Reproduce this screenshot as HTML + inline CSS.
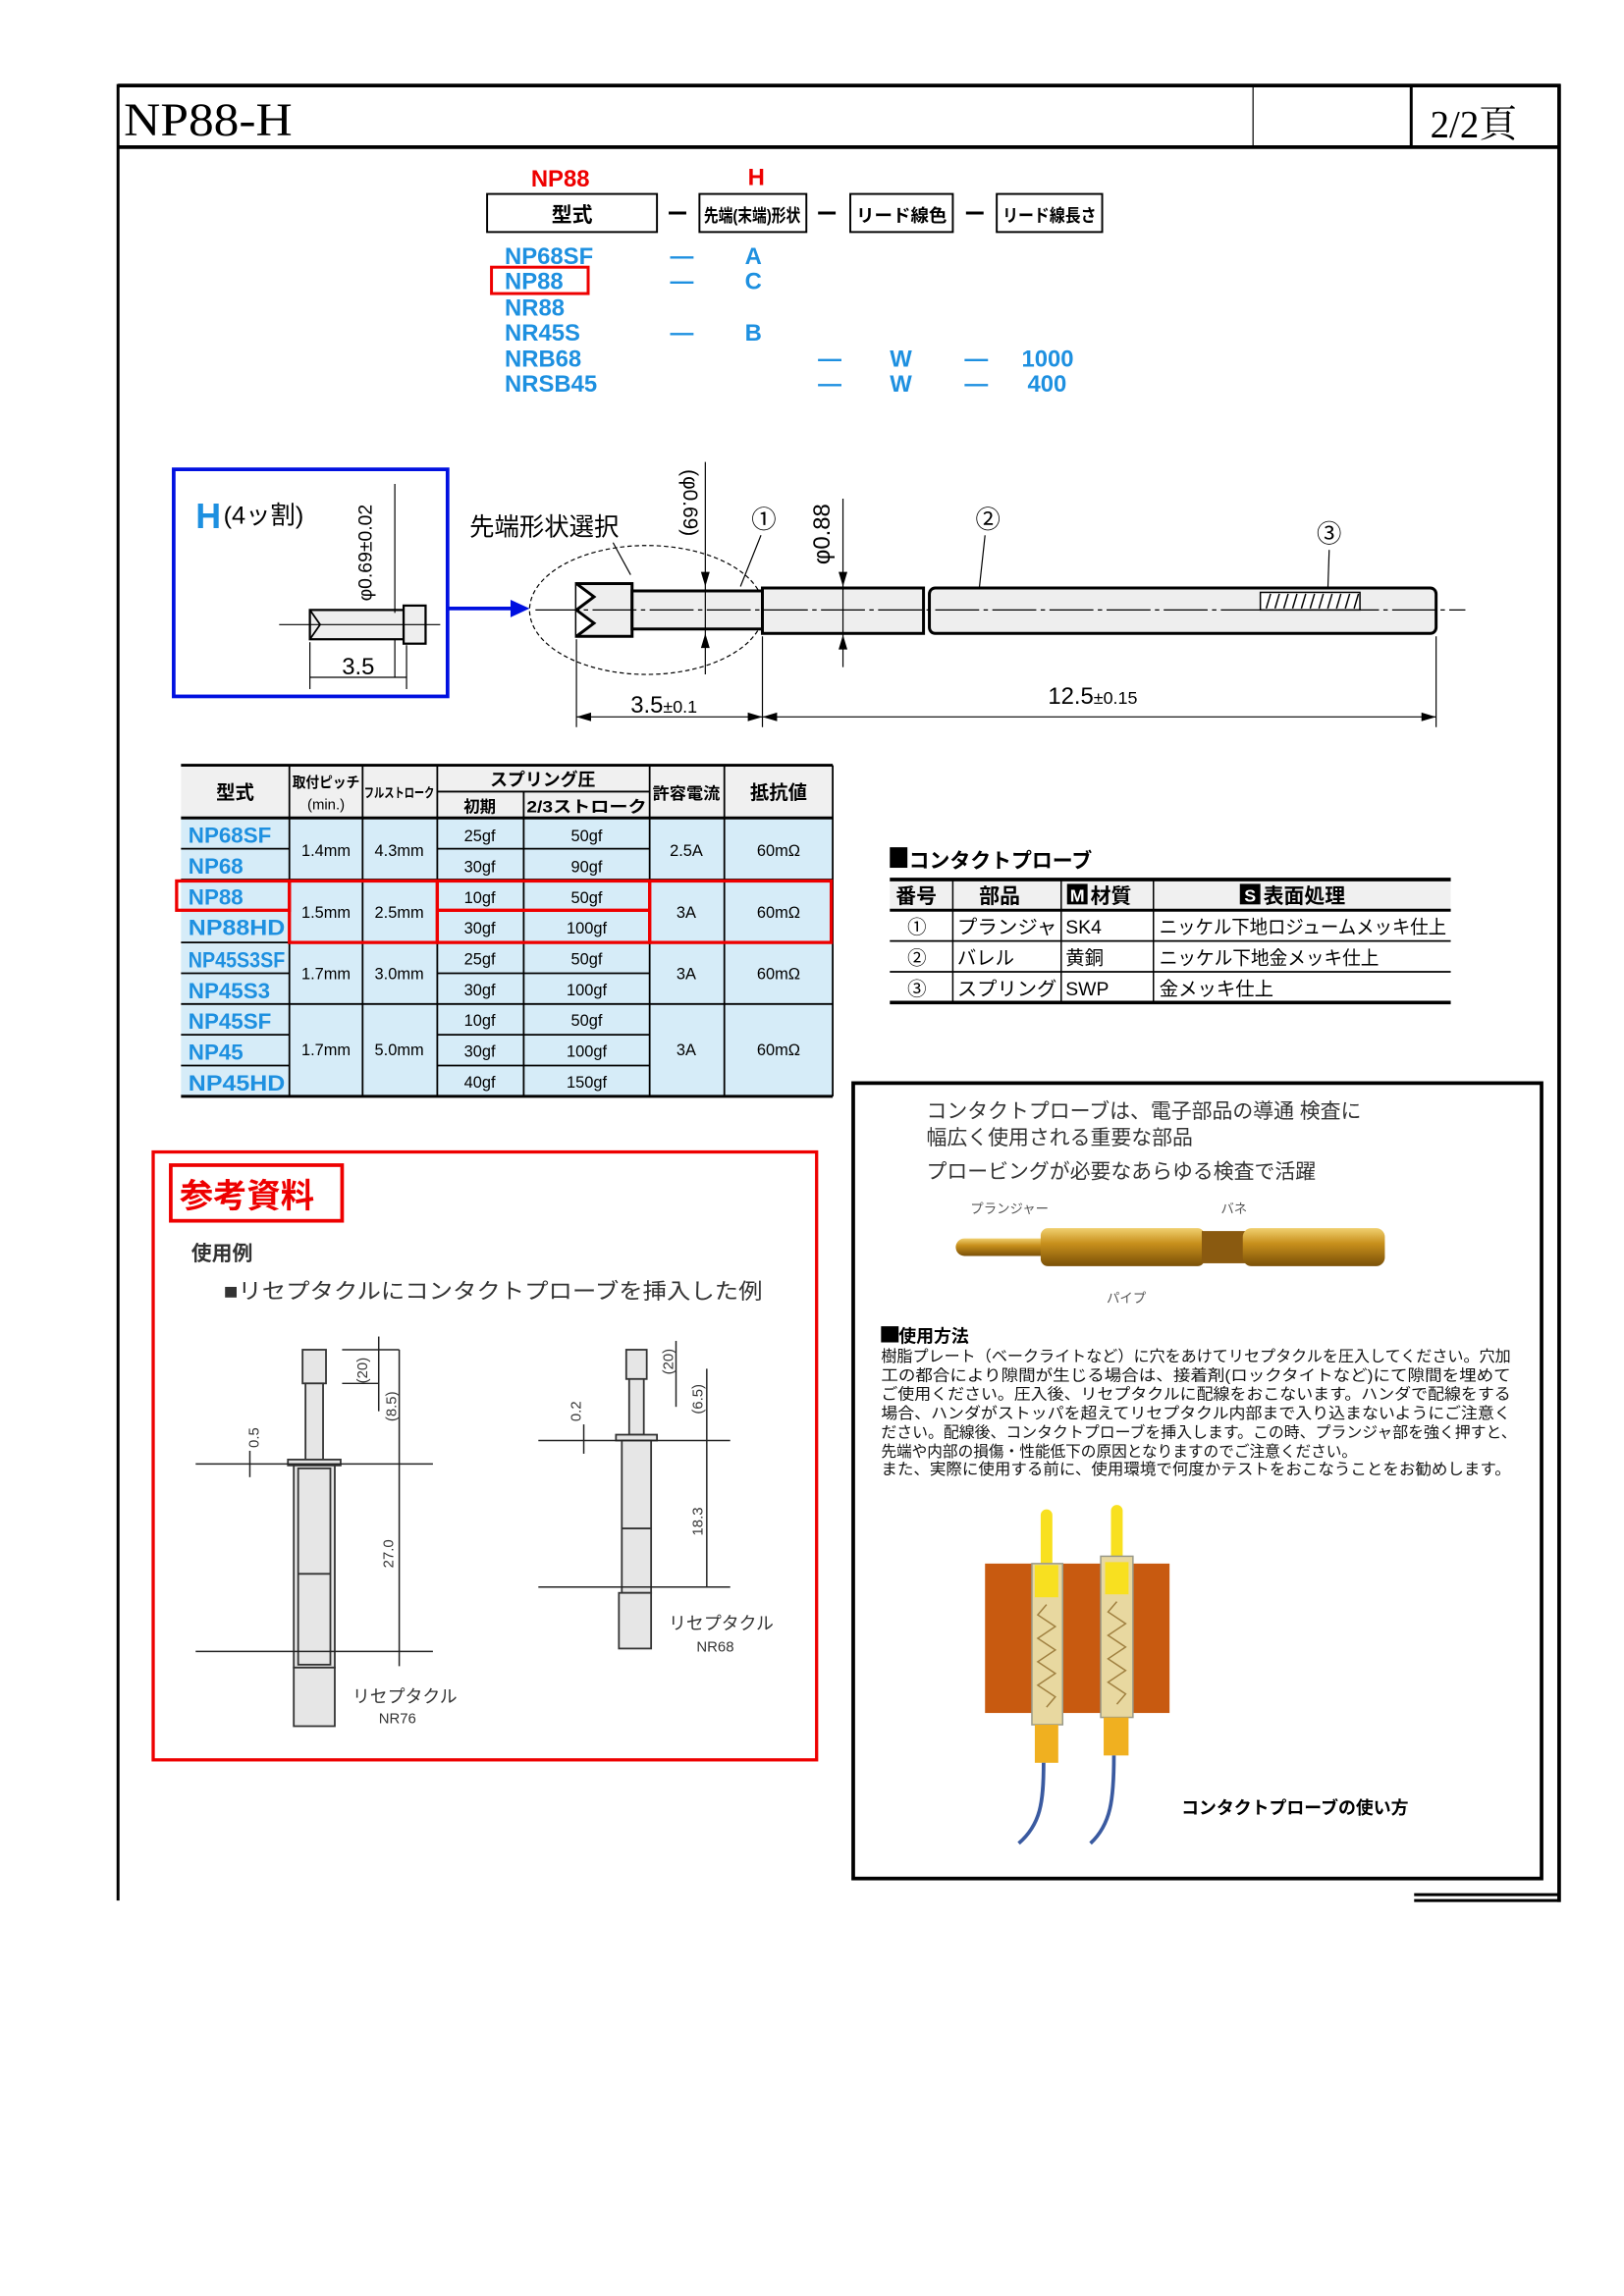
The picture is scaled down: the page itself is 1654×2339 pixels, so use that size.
<!DOCTYPE html>
<html><head><meta charset="utf-8"><style>
html,body{margin:0;padding:0;background:#fff;}
svg{display:block;}
text{font-family:"Liberation Sans","Noto Sans CJK JP",sans-serif;}
.s{font-family:"Liberation Serif","Noto Serif CJK SC",serif;}
.b{fill:#1e90e0;font-weight:bold;font-size:16px;}
.c{font-size:11px;text-anchor:middle;}
</style></head><body>
<svg width="1654" height="2339" viewBox="-0.6 -0.4 1108.9 1567.4" preserveAspectRatio="none" xmlns="http://www.w3.org/2000/svg">
<!-- frame -->
<g stroke="#000" fill="none">
<line x1="80" y1="58" x2="1065" y2="58" stroke-width="2.5"/>
<line x1="80" y1="57" x2="80" y2="1297" stroke-width="2"/>
<line x1="1064" y1="57" x2="1064" y2="1298" stroke-width="2.5"/>
<line x1="80" y1="100" x2="1065" y2="100" stroke-width="2.5"/>
<line x1="855" y1="59" x2="855" y2="100" stroke-width="0.8"/>
<line x1="963" y1="59" x2="963" y2="100" stroke-width="2"/>
<line x1="965" y1="1293" x2="1065" y2="1293" stroke-width="2"/>
<line x1="965" y1="1297" x2="1065" y2="1297" stroke-width="2"/>
</g>
<text x="84" y="92" class="s" font-size="32" textLength="115" lengthAdjust="spacingAndGlyphs">NP88-H</text>
<text x="976" y="93" class="s" font-size="26">2/2頁</text>

<!-- code section -->
<text x="362" y="127" font-size="16" font-weight="bold" fill="#e00">NP88</text>
<text x="510" y="126" font-size="16" font-weight="bold" fill="#e00">H</text>
<g stroke="#000" fill="none" stroke-width="1.3">
<rect x="332" y="132" width="116" height="26"/>
<rect x="477" y="132" width="73" height="26"/>
<rect x="580" y="132" width="70" height="26"/>
<rect x="680" y="132" width="72" height="26"/>
<line x1="456" y1="145" x2="468" y2="145" stroke-width="2"/>
<line x1="558" y1="145" x2="570" y2="145" stroke-width="2"/>
<line x1="659" y1="145" x2="671" y2="145" stroke-width="2"/>
</g>
<text x="390" y="151" font-size="14" font-weight="bold" text-anchor="middle">型式</text>
<text x="513" y="151" font-size="12" font-weight="bold" text-anchor="middle" textLength="66" lengthAdjust="spacingAndGlyphs">先端(末端)形状</text>
<text x="615" y="151" font-size="12" font-weight="bold" text-anchor="middle" textLength="62" lengthAdjust="spacingAndGlyphs">リード線色</text>
<text x="716" y="151" font-size="12" font-weight="bold" text-anchor="middle" textLength="64" lengthAdjust="spacingAndGlyphs">リード線長さ</text>
<g class="b">
<text x="344" y="180" class="b">NP68SF</text>
<text x="344" y="197" class="b">NP88</text>
<text x="344" y="215" class="b">NR88</text>
<text x="344" y="232" class="b">NR45S</text>
<text x="344" y="250" class="b">NRB68</text>
<text x="344" y="267" class="b">NRSB45</text>
<text x="457" y="180" class="b">—</text><text x="508" y="180" class="b">A</text>
<text x="457" y="197" class="b">—</text><text x="508" y="197" class="b">C</text>
<text x="457" y="232" class="b">—</text><text x="508" y="232" class="b">B</text>
<text x="558" y="250" class="b">—</text><text x="607" y="250" class="b">W</text><text x="658" y="250" class="b">—</text><text x="697" y="250" class="b">1000</text>
<text x="558" y="267" class="b">—</text><text x="607" y="267" class="b">W</text><text x="658" y="267" class="b">—</text><text x="701" y="267" class="b">400</text>
</g>
<rect x="335" y="182" width="66" height="18" fill="none" stroke="#e00" stroke-width="2"/>

<!-- H box -->
<rect x="118" y="320" width="187" height="155" fill="none" stroke="#0010e0" stroke-width="2.5"/>
<text x="133" y="360" font-size="24" font-weight="bold" fill="#1e90e0">H</text>
<text x="152" y="357" font-size="17">(4ッ割)</text>
<g stroke="#000" fill="none">
<rect x="211" y="416" width="64" height="20" fill="#eee" stroke-width="1.5"/>
<rect x="275" y="413" width="15" height="26" fill="#eee" stroke-width="1.5"/>
<polyline points="211,416 218,426 211,436" stroke-width="1.2"/>
<line x1="190" y1="426" x2="300" y2="426" stroke-width="0.8"/>
<line x1="269" y1="330" x2="269" y2="418" stroke-width="0.8"/>
<line x1="269" y1="436" x2="269" y2="462" stroke-width="0.8"/>
<line x1="211" y1="438" x2="211" y2="470" stroke-width="0.8"/>
<line x1="277" y1="440" x2="277" y2="470" stroke-width="0.8"/>
<line x1="211" y1="462" x2="277" y2="462" stroke-width="0.8"/>
</g>
<text x="253" y="410" font-size="13" transform="rotate(-90 253 410)">φ0.69±0.02</text>
<text x="244" y="460" font-size="16" text-anchor="middle">3.5</text>
<line x1="305" y1="415" x2="350" y2="415" stroke="#0010e0" stroke-width="2.5"/>
<polygon points="348,409 361,415 348,421" fill="#0010e0"/>

<!-- main probe -->
<text x="320" y="365" font-size="17">先端形状選択</text>
<text x="466" y="320" font-size="14" transform="rotate(90 466 320)">(φ0.69)</text>
<text x="566" y="385" font-size="16" transform="rotate(-90 566 385)">φ0.88</text>
<text x="521" y="360" font-size="17" text-anchor="middle">①</text>
<text x="674" y="360" font-size="17" text-anchor="middle">②</text>
<text x="907" y="370" font-size="17" text-anchor="middle">③</text>
<g stroke="#000" fill="none">
<ellipse cx="441" cy="416" rx="80" ry="44" stroke-dasharray="3 2" stroke-width="0.8"/>
<line x1="418" y1="370" x2="430" y2="392" stroke-width="0.8"/>
<line x1="519" y1="365" x2="505" y2="400" stroke-width="0.8"/>
<line x1="672" y1="365" x2="668" y2="402" stroke-width="0.8"/>
<line x1="907" y1="375" x2="906" y2="405" stroke-width="0.8"/>
<rect x="393" y="398" width="38" height="36" fill="#eee" stroke-width="2"/>
<polyline points="393,398 405,407 393,416 405,425 393,434" stroke-width="2" fill="#fff"/>
<rect x="431" y="403" width="89" height="26" fill="#eee" stroke-width="2"/>
<rect x="520" y="401" width="110" height="31" fill="#eee" stroke-width="2"/>
<rect x="634" y="401" width="346" height="31" rx="4" fill="#eee" stroke-width="2"/>
<rect x="860" y="404" width="68" height="12" fill="#fff" stroke-width="1"/>
<path d="M864 415l3-10M870 415l3-10M876 415l3-10M882 415l3-10M888 415l3-10M894 415l3-10M900 415l3-10M906 415l3-10M912 415l3-10M918 415l3-10M924 415l3-10" stroke-width="1"/>
<line x1="365" y1="416" x2="1000" y2="416" stroke-width="0.8" stroke-dasharray="30 3 3 3"/>
<line x1="481" y1="315" x2="481" y2="460" stroke-width="0.8"/>
<line x1="575" y1="340" x2="575" y2="455" stroke-width="0.8"/>
<line x1="393" y1="436" x2="393" y2="496" stroke-width="0.8"/>
<line x1="520" y1="434" x2="520" y2="496" stroke-width="0.8"/>
<line x1="980" y1="434" x2="980" y2="496" stroke-width="0.8"/>
<line x1="393" y1="489" x2="980" y2="489" stroke-width="0.8"/>
</g>
<g fill="#000">
<polygon points="393,489 403,486 403,492"/><polygon points="520,489 510,486 510,492"/>
<polygon points="520,489 530,486 530,492"/><polygon points="980,489 970,486 970,492"/>
<polygon points="481,400 478,390 484,390"/><polygon points="481,432 478,442 484,442"/>
<polygon points="575,400 572,390 578,390"/><polygon points="575,433 572,443 578,443"/>
</g>
<text x="430" y="486" font-size="16">3.5<tspan font-size="12">±0.1</tspan></text>
<text x="715" y="480" font-size="16">12.5<tspan font-size="12">±0.15</tspan></text>

<!-- spec table -->
<g>
<rect x="123" y="558" width="445" height="190" fill="#d6ecf8"/>
<rect x="123" y="522" width="445" height="36" fill="#f0f0f0"/>
<g stroke="#000" stroke-width="1.2" fill="none">
<line x1="123" y1="522" x2="568" y2="522" stroke-width="2"/>
<line x1="123" y1="558" x2="568" y2="558" stroke-width="2"/>
<line x1="123" y1="748" x2="568" y2="748" stroke-width="2"/>
<line x1="298" y1="540" x2="443" y2="540"/>
<line x1="197" y1="522" x2="197" y2="748"/><line x1="247" y1="522" x2="247" y2="748"/>
<line x1="298" y1="522" x2="298" y2="748"/><line x1="357" y1="540" x2="357" y2="748"/>
<line x1="443" y1="522" x2="443" y2="748"/><line x1="494" y1="522" x2="494" y2="748"/>
<line x1="568" y1="522" x2="568" y2="748"/>
<line x1="123" y1="600" x2="568" y2="600"/><line x1="123" y1="643" x2="568" y2="643"/>
<line x1="123" y1="685" x2="568" y2="685"/>
<line x1="123" y1="579" x2="197" y2="579"/><line x1="298" y1="579" x2="443" y2="579"/>
<line x1="123" y1="621" x2="197" y2="621"/><line x1="298" y1="621" x2="443" y2="621"/>
<line x1="123" y1="664" x2="197" y2="664"/><line x1="298" y1="664" x2="443" y2="664"/>
<line x1="123" y1="706" x2="197" y2="706"/><line x1="298" y1="706" x2="443" y2="706"/>
<line x1="123" y1="727" x2="197" y2="727"/><line x1="298" y1="727" x2="443" y2="727"/>
</g>
<text x="160" y="545" font-size="13" font-weight="bold" text-anchor="middle">型式</text>
<text x="222" y="537" font-size="10" font-weight="bold" text-anchor="middle" textLength="46" lengthAdjust="spacingAndGlyphs">取付ピッチ</text>
<text x="222" y="552" font-size="10" text-anchor="middle">(min.)</text>
<text x="272" y="544" font-size="9" font-weight="bold" text-anchor="middle" textLength="48" lengthAdjust="spacingAndGlyphs">フルストローク</text>
<text x="370" y="536" font-size="12" font-weight="bold" text-anchor="middle">スプリング圧</text>
<text x="327" y="554" font-size="11" font-weight="bold" text-anchor="middle">初期</text>
<text x="400" y="554" font-size="11" font-weight="bold" text-anchor="middle" textLength="82" lengthAdjust="spacingAndGlyphs">2/3ストローク</text>
<text x="468" y="545" font-size="11" font-weight="bold" text-anchor="middle" textLength="46" lengthAdjust="spacingAndGlyphs">許容電流</text>
<text x="531" y="545" font-size="13" font-weight="bold" text-anchor="middle">抵抗値</text>
<g font-size="15" font-weight="bold" fill="#1e90e0">
<text x="128" y="575">NP68SF</text><text x="128" y="596">NP68</text>
<text x="128" y="617">NP88</text><text x="128" y="638" textLength="66" lengthAdjust="spacingAndGlyphs">NP88HD</text>
<text x="128" y="660" textLength="66" lengthAdjust="spacingAndGlyphs">NP45S3SF</text><text x="128" y="681">NP45S3</text>
<text x="128" y="702">NP45SF</text><text x="128" y="723">NP45</text><text x="128" y="744" textLength="66" lengthAdjust="spacingAndGlyphs">NP45HD</text>
</g>
<g class="c">
<text x="222" y="584" class="c">1.4mm</text><text x="272" y="584" class="c">4.3mm</text>
<text x="222" y="626" class="c">1.5mm</text><text x="272" y="626" class="c">2.5mm</text>
<text x="222" y="668" class="c">1.7mm</text><text x="272" y="668" class="c">3.0mm</text>
<text x="222" y="720" class="c">1.7mm</text><text x="272" y="720" class="c">5.0mm</text>
<text x="327" y="574" class="c">25gf</text><text x="400" y="574" class="c">50gf</text>
<text x="327" y="595" class="c">30gf</text><text x="400" y="595" class="c">90gf</text>
<text x="327" y="616" class="c">10gf</text><text x="400" y="616" class="c">50gf</text>
<text x="327" y="637" class="c">30gf</text><text x="400" y="637" class="c">100gf</text>
<text x="327" y="658" class="c">25gf</text><text x="400" y="658" class="c">50gf</text>
<text x="327" y="679" class="c">30gf</text><text x="400" y="679" class="c">100gf</text>
<text x="327" y="700" class="c">10gf</text><text x="400" y="700" class="c">50gf</text>
<text x="327" y="721" class="c">30gf</text><text x="400" y="721" class="c">100gf</text>
<text x="327" y="742" class="c">40gf</text><text x="400" y="742" class="c">150gf</text>
<text x="468" y="584" class="c">2.5A</text><text x="531" y="584" class="c">60mΩ</text>
<text x="468" y="626" class="c">3A</text><text x="531" y="626" class="c">60mΩ</text>
<text x="468" y="668" class="c">3A</text><text x="531" y="668" class="c">60mΩ</text>
<text x="468" y="720" class="c">3A</text><text x="531" y="720" class="c">60mΩ</text>
</g>
<g stroke="#e00" stroke-width="2.2" fill="none">
<rect x="120" y="601" width="77" height="20"/>
<rect x="197" y="601" width="101" height="42"/>
<rect x="298" y="601" width="145" height="42"/>
<line x1="298" y1="621" x2="443" y2="621"/>
<rect x="443" y="601" width="124" height="42"/>
</g>
</g>

<!-- contact probe table -->
<rect x="607" y="578" width="12" height="14" fill="#000"/>
<text x="620" y="592" font-size="14" font-weight="bold">コンタクトプローブ</text>
<rect x="607" y="600" width="383" height="21" fill="#f0f0f0"/>
<g stroke="#000" fill="none">
<line x1="607" y1="600" x2="990" y2="600" stroke-width="2.5"/>
<line x1="607" y1="621" x2="990" y2="621" stroke-width="2"/>
<line x1="607" y1="642" x2="990" y2="642" stroke-width="1.2"/>
<line x1="607" y1="663" x2="990" y2="663" stroke-width="1.2"/>
<line x1="607" y1="684" x2="990" y2="684" stroke-width="2.5"/>
<line x1="650" y1="600" x2="650" y2="684"/><line x1="724" y1="600" x2="724" y2="684"/>
<line x1="787" y1="600" x2="787" y2="684"/>
</g>
<g font-size="14" font-weight="bold">
<text x="611" y="616">番号</text><text x="668" y="616">部品</text>
<rect x="728" y="603" width="14" height="14" fill="#000"/><text x="730" y="615" fill="#fff" font-size="12">M</text><text x="744" y="616">材質</text>
<rect x="846" y="603" width="14" height="14" fill="#000"/><text x="849" y="615" fill="#fff" font-size="12">S</text><text x="862" y="616">表面処理</text>
</g>
<g font-size="13">
<text x="619" y="637">①</text><text x="653" y="637" textLength="68" lengthAdjust="spacingAndGlyphs">プランジャ</text><text x="727" y="637">SK4</text><text x="791" y="637" textLength="196" lengthAdjust="spacingAndGlyphs">ニッケル下地ロジュームメッキ仕上</text>
<text x="619" y="658">②</text><text x="653" y="658">バレル</text><text x="727" y="658">黄銅</text><text x="791" y="658" textLength="150" lengthAdjust="spacingAndGlyphs">ニッケル下地金メッキ仕上</text>
<text x="619" y="679">③</text><text x="653" y="679" textLength="68" lengthAdjust="spacingAndGlyphs">スプリング</text><text x="727" y="679">SWP</text><text x="791" y="679">金メッキ仕上</text>
</g>

<!-- right info box -->
<rect x="582" y="739" width="470" height="543" fill="none" stroke="#000" stroke-width="2.5"/>
<g font-size="14" fill="#333">
<text x="632" y="763">コンタクトプローブは、電子部品の導通 検査に</text>
<text x="632" y="781">幅広く使用される重要な部品</text>
<text x="632" y="804">プロービングが必要なあらゆる検査で活躍</text>
</g>
<defs><linearGradient id="g" x1="0" y1="0" x2="0" y2="1"><stop offset="0" stop-color="#f0d070"/><stop offset="0.4" stop-color="#c8901c"/><stop offset="1" stop-color="#7a5008"/></linearGradient></defs>
<rect x="652" y="845" width="70" height="12" rx="6" fill="url(#g)"/>
<rect x="710" y="838" width="112" height="26" rx="5" fill="url(#g)"/>
<rect x="820" y="840" width="30" height="22" fill="#8a5a10"/>
<rect x="848" y="838" width="97" height="26" rx="6" fill="url(#g)"/>
<g font-size="9" fill="#555"><text x="662" y="828">プランジャー</text><text x="833" y="828">バネ</text><text x="755" y="889">パイプ</text></g>
<rect x="601" y="905" width="12" height="11" fill="#000"/>
<text x="613" y="916" font-size="12" font-weight="bold">使用方法</text>
<g font-size="10.5" fill="#111">
<text x="601" y="929" textLength="430" lengthAdjust="spacingAndGlyphs">樹脂プレート（ベークライトなど）に穴をあけてリセプタクルを圧入してください。穴加</text>
<text x="601" y="942" textLength="430" lengthAdjust="spacingAndGlyphs">工の都合により隙間が生じる場合は、接着剤(ロックタイトなど)にて隙間を埋めて</text>
<text x="601" y="955" textLength="430" lengthAdjust="spacingAndGlyphs">ご使用ください。圧入後、リセプタクルに配線をおこないます。ハンダで配線をする</text>
<text x="601" y="968" textLength="430" lengthAdjust="spacingAndGlyphs">場合、ハンダがストッパを超えてリセプタクル内部まで入り込まないようにご注意く</text>
<text x="601" y="981" textLength="434" lengthAdjust="spacingAndGlyphs">ださい。配線後、コンタクトプローブを挿入します。この時、プランジャ部を強く押すと、</text>
<text x="601" y="994">先端や内部の損傷・性能低下の原因となりますのでご注意ください。</text>
<text x="601" y="1006" textLength="430" lengthAdjust="spacingAndGlyphs">また、実際に使用する前に、使用環境で何度かテストをおこなうことをお勧めします。</text>
</g>
<rect x="672" y="1067" width="126" height="102" fill="#c85a10"/>
<rect x="710" y="1030" width="8" height="45" rx="4" fill="#f8e020"/>
<rect x="758" y="1027" width="8" height="45" rx="4" fill="#f8e020"/>
<rect x="704" y="1067" width="21" height="110" fill="#e8d8a0" stroke="#998" stroke-width="1"/>
<rect x="751" y="1062" width="22" height="110" fill="#e8d8a0" stroke="#998" stroke-width="1"/>
<rect x="706" y="1068" width="16" height="22" fill="#f8e020"/>
<rect x="754" y="1066" width="16" height="22" fill="#f8e020"/>
<polyline points="714,1095 708,1102 720,1110 708,1118 720,1126 708,1134 720,1142 708,1150 720,1158 714,1165" fill="none" stroke="#a08040" stroke-width="1"/>
<polyline points="762,1093 756,1100 768,1108 756,1116 768,1124 756,1132 768,1140 756,1148 768,1156 762,1163" fill="none" stroke="#a08040" stroke-width="1"/>
<rect x="706" y="1177" width="16" height="26" fill="#f0b020"/>
<rect x="753" y="1172" width="17" height="26" fill="#f0b020"/>
<path d="M712 1203 C712 1230 710 1245 695 1258" fill="none" stroke="#3a5aa0" stroke-width="2.5"/>
<path d="M760 1198 C760 1228 758 1245 744 1258" fill="none" stroke="#3a5aa0" stroke-width="2.5"/>
<text x="806" y="1238" font-size="12" font-weight="bold">コンタクトプローブの使い方</text>

<!-- reference box -->
<rect x="104" y="786" width="453" height="415" fill="none" stroke="#e00" stroke-width="2.2"/>
<rect x="116" y="795" width="117" height="38" fill="none" stroke="#e00" stroke-width="2.5"/>
<text x="122" y="824" font-size="23" font-weight="bold" fill="#e00">参考資料</text>
<text x="130" y="860" font-size="14" font-weight="bold" fill="#333">使用例</text>
<text x="152" y="886" font-size="15" fill="#333" textLength="368" lengthAdjust="spacingAndGlyphs">■リセプタクルにコンタクトプローブを挿入した例</text>
<g stroke="#333" fill="#e6e6e6" stroke-width="1.2">
<rect x="206" y="921" width="16" height="23"/>
<rect x="208" y="944" width="12" height="52"/>
<rect x="196" y="996" width="36" height="4"/>
<rect x="200" y="1000" width="28" height="138"/>
<rect x="203" y="1002" width="22" height="134"/>
<line x1="203" y1="1074" x2="225" y2="1074"/>
<rect x="200" y="1138" width="28" height="40"/>
<rect x="427" y="921" width="14" height="20"/>
<rect x="429" y="941" width="10" height="38"/>
<rect x="420" y="979" width="28" height="4"/>
<rect x="424" y="983" width="20" height="104"/>
<line x1="424" y1="1043" x2="444" y2="1043"/>
<rect x="422" y="1087" width="22" height="38"/>
</g>
<g stroke="#222" stroke-width="1">
<line x1="133" y1="999" x2="295" y2="999"/><line x1="133" y1="1127" x2="295" y2="1127"/>
<line x1="367" y1="983" x2="498" y2="983"/><line x1="367" y1="1083" x2="498" y2="1083"/>
<line x1="272" y1="921" x2="272" y2="1137"/>
<line x1="258" y1="912" x2="258" y2="963"/>
<line x1="233" y1="921" x2="272" y2="921"/>
<line x1="233" y1="944" x2="258" y2="944"/>
<line x1="170" y1="990" x2="170" y2="1008"/>
<line x1="482" y1="934" x2="482" y2="1083"/>
<line x1="461" y1="915" x2="461" y2="960"/>
<line x1="398" y1="972" x2="398" y2="992"/>
</g>
<g font-size="10" fill="#333">
<text x="250" y="944" transform="rotate(-90 250 944)">(20)</text>
<text x="270" y="970" transform="rotate(-90 270 970)">(8.5)</text>
<text x="268" y="1070" transform="rotate(-90 268 1070)">27.0</text>
<text x="176" y="988" transform="rotate(-90 176 988)">0.5</text>
<text x="459" y="938" transform="rotate(-90 459 938)">(20)</text>
<text x="479" y="965" transform="rotate(-90 479 965)">(6.5)</text>
<text x="479" y="1048" transform="rotate(-90 479 1048)">18.3</text>
<text x="396" y="970" transform="rotate(-90 396 970)">0.2</text>
<text x="240" y="1162" font-size="12">リセプタクル</text><text x="258" y="1176">NR76</text>
<text x="456" y="1112" font-size="12">リセプタクル</text><text x="475" y="1127">NR68</text>
</g>
</svg>
</body></html>
